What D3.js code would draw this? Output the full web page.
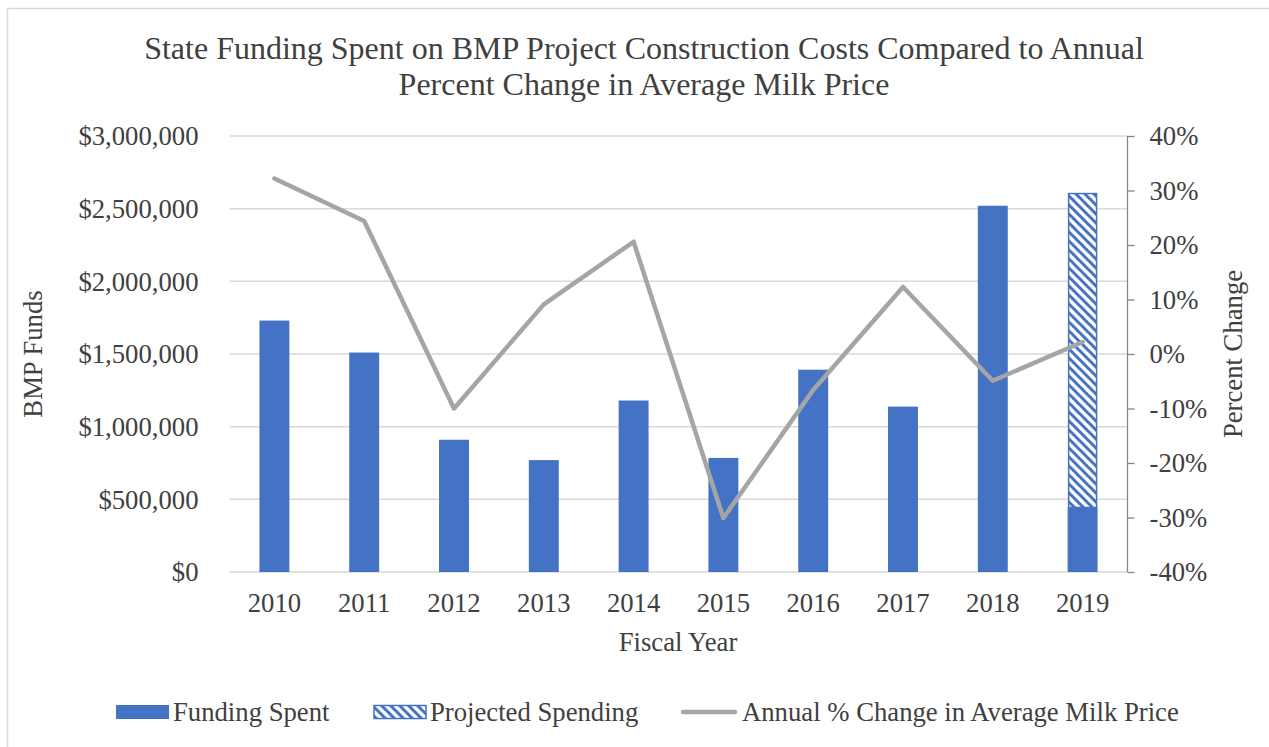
<!DOCTYPE html>
<html>
<head>
<meta charset="utf-8">
<style>
    body { margin: 0; background: #fff; }
    text { font-family: "Liberation Serif", "Times New Roman", serif; fill: #404040; }
</style>
<script src="https://cdn.jsdelivr.net/npm/d3@7"></script>
</head>
<body>
<script>
    // data
    var years = ["2010", "2011", "2012", "2013", "2014", "2015", "2016", "2017", "2018", "2019"];
    var fundingSpent = [1730000, 1510000, 910000, 770000, 1180000, 785000, 1392000, 1138000, 2520000, 444000];
    var projectedSpending = [0, 0, 0, 0, 0, 0, 0, 0, 0, 2160000];
    var milkChange = [0.322, 0.244, -0.100, 0.091, 0.206, -0.301, -0.066, 0.123, -0.049, 0.022];
    var leftTicks = [0, 500000, 1000000, 1500000, 2000000, 2500000, 3000000];
    var rightTicks = [-0.4, -0.3, -0.2, -0.1, 0, 0.1, 0.2, 0.3, 0.4];

    var width = 1269, height = 747;
    var blue = "#4472C4", grey = "#A5A5A5";
    var fs = "26.7px";

    var svg = d3.select("body").append("svg")
        .attr("width", width)
        .attr("height", height);

    // hatch for projected spending
    var defs = svg.append("defs");
    var pat = defs.append("pattern")
        .attr("id", "hatch")
        .attr("patternUnits", "userSpaceOnUse")
        .attr("width", 9)
        .attr("height", 9);
    pat.append("rect").attr("width", 9).attr("height", 9).attr("fill", "#fff");
    pat.append("path")
        .attr("d", "M-2,-2L11,11M-11,-2L2,11M7,-2L20,11")
        .attr("stroke", blue)
        .attr("stroke-width", 3);

    // outer border
    svg.append("rect")
        .attr("x", 7.5).attr("y", 8.5)
        .attr("width", 1300).attr("height", 800)
        .attr("fill", "none")
        .attr("stroke", "#d9d9d9")
        .attr("stroke-width", 1.5);

    var marge = { top: 136, bottom: 572, left: 229.5, right: 1127.5 };

    var x = d3.scaleBand()
        .domain(years)
        .range([marge.left, marge.right])
        .paddingInner(2 / 3)
        .paddingOuter(1 / 3);

    var y = d3.scaleLinear().domain([0, 3000000]).range([marge.bottom, marge.top]);
    var y2 = d3.scaleLinear().domain([-0.4, 0.4]).range([marge.bottom, marge.top]);

    // gridlines
    svg.append("g").selectAll("line")
        .data(leftTicks)
        .enter().append("line")
        .attr("x1", marge.left).attr("x2", marge.right)
        .attr("y1", function (d) { return y(d); })
        .attr("y2", function (d) { return y(d); })
        .attr("stroke", "#d9d9d9")
        .attr("stroke-width", 1.5);

    // left axis labels
    var fmt = d3.format("$,");
    var leftAxis = d3.axisLeft(y).tickValues(leftTicks).tickSize(0).tickPadding(31).tickFormat(fmt);
    var gl = svg.append("g").attr("transform", "translate(" + marge.left + ",0)").call(leftAxis);
    gl.select(".domain").remove();
    gl.selectAll("text").style("font-size", fs).attr("dy", "0.33em")
        .style("font-family", "Liberation Serif").attr("fill", "#404040");

    // right axis
    var pct = d3.format(".0%");
    var rightAxis = d3.axisRight(y2).tickValues(rightTicks).tickSize(7).tickPadding(15)
        .tickFormat(function (d) { return pct(d).replace("\u2212", "-"); });
    var gr = svg.append("g").attr("transform", "translate(" + marge.right + ",0)").call(rightAxis);
    gr.select(".domain").attr("stroke", "#868686").attr("stroke-width", 1.3)
        .attr("d", "M0," + marge.top + "V" + marge.bottom);
    gr.selectAll(".tick line").attr("stroke", "#868686").attr("stroke-width", 1.3);
    gr.selectAll("text").style("font-size", fs).attr("dy", "0.33em")
        .style("font-family", "Liberation Serif").attr("fill", "#404040");

    // bottom axis labels
    var bottomAxis = d3.axisBottom(x).tickSize(0).tickPadding(21);
    var gb = svg.append("g").attr("transform", "translate(0," + marge.bottom + ")").call(bottomAxis);
    gb.select(".domain").remove();
    gb.selectAll("text").style("font-size", fs).attr("dy", "0.71em")
        .style("font-family", "Liberation Serif").attr("fill", "#404040");

    // bars
    svg.append("g").selectAll("rect")
        .data(years)
        .enter().append("rect")
        .attr("x", function (d) { return x(d); })
        .attr("width", x.bandwidth())
        .attr("y", function (d, i) { return y(fundingSpent[i]); })
        .attr("height", function (d, i) { return y(0) - y(fundingSpent[i]); })
        .attr("fill", blue);

    svg.append("g").selectAll("rect")
        .data(years.filter(function (d, i) { return projectedSpending[i] > 0; }))
        .enter().append("rect")
        .attr("x", function (d) { return x(d) + 1; })
        .attr("width", x.bandwidth() - 2)
        .attr("y", function (d) { var i = years.indexOf(d); return y(fundingSpent[i] + projectedSpending[i]); })
        .attr("height", function (d) { var i = years.indexOf(d); return y(fundingSpent[i]) - y(fundingSpent[i] + projectedSpending[i]); })
        .attr("fill", "url(#hatch)")
        .attr("stroke", blue)
        .attr("stroke-width", 1.5);

    // milk price line
    var line = d3.line()
        .x(function (d, i) { return x(years[i]) + x.bandwidth() / 2; })
        .y(function (d) { return y2(d); });
    svg.append("path")
        .datum(milkChange)
        .attr("d", line)
        .attr("fill", "none")
        .attr("stroke", grey)
        .attr("stroke-width", 4.5)
        .attr("stroke-linejoin", "round")
        .attr("stroke-linecap", "round");

    // title
    var title = svg.append("text")
        .attr("text-anchor", "middle")
        .style("font-size", "32px");
    title.append("tspan").attr("x", 644).attr("y", 59)
        .text("State Funding Spent on BMP Project Construction Costs Compared to Annual");
    title.append("tspan").attr("x", 644).attr("y", 95)
        .text("Percent Change in Average Milk Price");

    // axis titles
    svg.append("text")
        .attr("transform", "translate(42,354) rotate(-90)")
        .attr("text-anchor", "middle")
        .style("font-size", fs)
        .text("BMP Funds");
    svg.append("text")
        .attr("transform", "translate(1242,354) rotate(-90)")
        .attr("text-anchor", "middle")
        .style("font-size", fs)
        .text("Percent Change");
    svg.append("text")
        .attr("x", 678).attr("y", 651)
        .attr("text-anchor", "middle")
        .style("font-size", fs)
        .text("Fiscal Year");

    // legend
    var lg = svg.append("g");
    lg.append("rect").attr("x", 116).attr("y", 705).attr("width", 53).attr("height", 14).attr("fill", blue);
    lg.append("text").attr("x", 173).attr("y", 721).style("font-size", fs).text("Funding Spent");
    lg.append("rect").attr("x", 374).attr("y", 705.5).attr("width", 52).attr("height", 13)
        .attr("fill", "url(#hatch)").attr("stroke", blue).attr("stroke-width", 1.5);
    lg.append("text").attr("x", 430).attr("y", 721).style("font-size", fs).text("Projected Spending");
    lg.append("line").attr("x1", 683).attr("x2", 735).attr("y1", 712).attr("y2", 712)
        .attr("stroke", grey).attr("stroke-width", 4.5).attr("stroke-linecap", "round");
    lg.append("text").attr("x", 742).attr("y", 721).style("font-size", fs).text("Annual % Change in Average Milk Price");
</script>
</body>
</html>
